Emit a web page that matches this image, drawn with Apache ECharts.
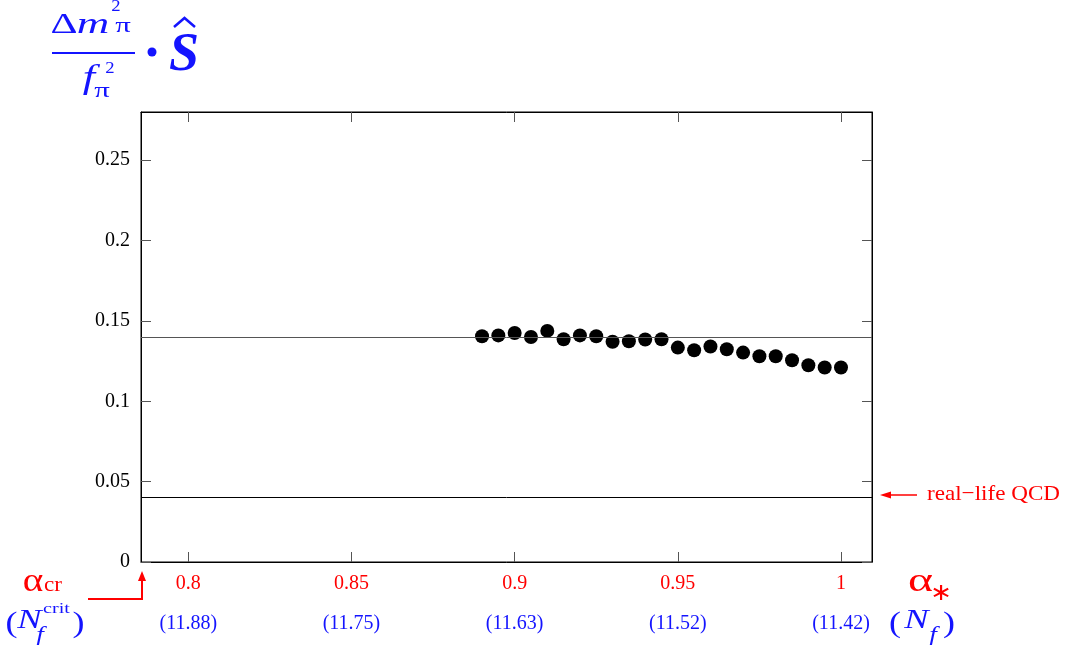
<!DOCTYPE html>
<html>
<head>
<meta charset="utf-8">
<script src="https://cdn.jsdelivr.net/npm/echarts@6/dist/echarts.min.js"></script>
<style>
  html, body { margin: 0; padding: 0; background: #fff; }
  #chart { width: 1065px; height: 645px; }
</style>
</head>
<body>
<div id="chart"></div>
<script>
// alpha_* values of the points and the measured quantity
const alphaValues = [0.89, 0.895, 0.9, 0.905, 0.91, 0.915, 0.92, 0.925, 0.93, 0.935, 0.94, 0.945,
  0.95, 0.955, 0.96, 0.965, 0.97, 0.975, 0.98, 0.985, 0.99, 0.995, 1.0];
const splitValues = [0.1405, 0.141, 0.1425, 0.140, 0.1438, 0.1386, 0.141, 0.1405, 0.137, 0.1374, 0.1384, 0.1386,
  0.1334, 0.1318, 0.1341, 0.1324, 0.1303, 0.128, 0.128, 0.1255, 0.1224, 0.121, 0.121];

const xTicks = [0.8, 0.85, 0.9, 0.95, 1];
const nfLabels = ["(11.88)", "(11.75)", "(11.63)", "(11.52)", "(11.42)"];
const yTicks = [0, 0.05, 0.1, 0.15, 0.2, 0.25];
const refLines = [0.14, 0.04];

const X_MIN = 0.7855;
const X_MAX = 1.0095;
const Y_MIN = 0;
const Y_MAX = 0.28;

const SERIF = "Liberation Serif";
const BLUE = "#1414ff";
const RED = "#ff0000";

const fmtY = (v) => String(parseFloat(Number(v).toFixed(2)));

// one text glyph of the hand-set labels, centred on (x, y)
function txt(x, y, text, size, color, opts = {}) {
  return {
    type: "text",
    x, y,
    scaleX: opts.sx || 1,
    silent: true,
    style: {
      text,
      fill: color,
      fontFamily: SERIF,
      fontSize: size,
      fontStyle: opts.italic ? "italic" : "normal",
      fontWeight: opts.bold ? "bold" : "normal",
      textAlign: opts.align || "center",
      textVerticalAlign: "middle",
    },
  };
}

const chart = echarts.init(document.getElementById("chart"), null, { renderer: "canvas" });

const points = alphaValues.map((a, i) => [a, splitValues[i]]);

const graphics = [
  // y-axis title: (Δm_π^2 / f_π^2) · Ŝ
  txt(64, 25, "Δ", 30, BLUE, { sx: 1.4 }),
  txt(93, 25, "m", 30, BLUE, { italic: true, sx: 1.5 }),
  txt(116, 7, "2", 17, BLUE, { sx: 1.1 }),
  txt(123, 26, "π", 22, BLUE, { sx: 1.4 }),
  { type: "rect", silent: true, shape: { x: 52, y: 52, width: 83, height: 2 }, style: { fill: BLUE } },
  txt(89, 79, "f", 34, BLUE, { italic: true, sx: 1.3 }),
  txt(110, 69, "2", 17, BLUE, { sx: 1.1 }),
  txt(102, 91, "π", 22, BLUE, { sx: 1.4 }),
  { type: "circle", silent: true, shape: { cx: 152, cy: 52, r: 4.5 }, style: { fill: BLUE } },
  txt(184, 56, "S", 54, BLUE, { bold: true, italic: true }),
  { type: "polyline", silent: true, shape: { points: [[174, 27], [184.5, 18], [195, 27]] },
    style: { stroke: BLUE, lineWidth: 2.5, fill: null } },

  // alpha_cr / N_f^crit on the left
  txt(33, 582, "α", 34, RED, { sx: 1.15 }),
  txt(53, 585, "cr", 22, RED, { sx: 1.05 }),
  txt(11.5, 624, "(", 30, BLUE, { sx: 1.2 }),
  txt(29.5, 621, "N", 27, BLUE, { italic: true, sx: 1.35 }),
  txt(40, 635, "f", 21, BLUE, { italic: true, sx: 1.3 }),
  txt(56.5, 609, "crit", 15, BLUE, { sx: 1.35 }),
  txt(78.5, 624, ")", 30, BLUE, { sx: 1.2 }),
  { type: "polyline", silent: true, shape: { points: [[88, 599], [142, 599], [142, 579]] },
    style: { stroke: RED, lineWidth: 2, fill: null } },
  { type: "polygon", silent: true, shape: { points: [[142, 571], [138, 581], [146, 581]] },
    style: { fill: RED } },

  // alpha_* / N_f on the right
  txt(920.5, 582, "α", 34, RED, { sx: 1.4 }),
  txt(941, 594, "∗", 24, RED, { sx: 1.1 }),
  txt(895, 624, "(", 30, BLUE, { sx: 1.2 }),
  txt(916.5, 621, "N", 27, BLUE, { italic: true, sx: 1.35 }),
  txt(933, 635, "f", 21, BLUE, { italic: true, sx: 1.3 }),
  txt(949, 624, ")", 30, BLUE, { sx: 1.2 }),

  // real-life QCD marker
  { type: "line", silent: true, shape: { x1: 917, y1: 495, x2: 886, y2: 495 },
    style: { stroke: RED, lineWidth: 1.5 } },
  { type: "polygon", silent: true, shape: { points: [[880, 495], [891, 491.5], [891, 498.5]] },
    style: { fill: RED } },
  txt(927, 494, "real−life QCD", 22, RED, { align: "left", sx: 1.05 }),
];

const tickStyle = { inside: true, length: 10, lineStyle: { color: "#555", width: 1 } };

chart.setOption({
  animation: false,
  backgroundColor: "#fff",
  grid: {
    left: 141, right: 193, top: 112, bottom: 83,
    show: true, borderColor: "#000", borderWidth: 1,
  },
  xAxis: [
    {
      type: "value", min: X_MIN, max: X_MAX,
      axisLine: { show: true, onZero: false, lineStyle: { color: "#000" } },
      axisTick: { ...tickStyle, customValues: xTicks },
      splitLine: { show: false },
      axisLabel: {
        customValues: xTicks,
        margin: 2,
        formatter: (v) => {
          const i = xTicks.findIndex((t) => Math.abs(t - v) < 1e-6);
          return `{a|${parseFloat(v.toFixed(2))}}\n{b|${nfLabels[i] || ""}}`;
        },
        rich: {
          a: { fontFamily: SERIF, fontSize: 20, color: RED, lineHeight: 40 },
          b: { fontFamily: SERIF, fontSize: 20, color: BLUE, lineHeight: 40 },
        },
      },
    },
    {
      type: "value", position: "top", min: X_MIN, max: X_MAX,
      axisLine: { show: true, onZero: false, lineStyle: { color: "#000" } },
      axisTick: { ...tickStyle, customValues: xTicks },
      axisLabel: { show: false },
      splitLine: { show: false },
    },
  ],
  yAxis: [
    {
      type: "value", min: Y_MIN, max: Y_MAX,
      axisLine: { show: true, onZero: false, lineStyle: { color: "#000" } },
      axisTick: { ...tickStyle, customValues: yTicks },
      splitLine: { show: false },
      axisLabel: {
        customValues: yTicks,
        margin: 11,
        formatter: fmtY,
        fontFamily: SERIF, fontSize: 20, color: "#000",
      },
    },
    {
      type: "value", position: "right", min: Y_MIN, max: Y_MAX,
      axisLine: { show: true, onZero: false, lineStyle: { color: "#000" } },
      axisTick: { ...tickStyle, customValues: yTicks },
      axisLabel: { show: false },
      splitLine: { show: false },
    },
  ],
  series: [
    {
      type: "scatter",
      data: points,
      symbol: "circle",
      symbolSize: 14,
      itemStyle: { color: "#000", opacity: 1 },
      z: 3,
      markLine: {
        silent: true,
        symbol: "none",
        label: { show: false },
        data: refLines.map((v, i) => ({
          yAxis: v,
          lineStyle: { type: "solid", width: 1, color: i === 0 ? "#555" : "#000" },
        })),
      },
    },
  ],
  graphic: graphics,
});
</script>
</body>
</html>
